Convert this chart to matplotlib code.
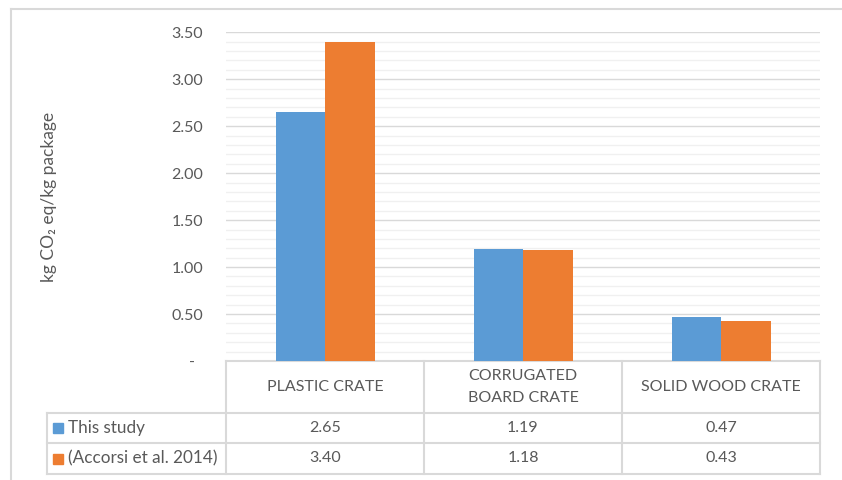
import numpy as np
import matplotlib.pyplot as plt
import matplotlib.transforms as mtransforms
from matplotlib.lines import Line2D
from matplotlib.patches import Rectangle
from matplotlib.ticker import MultipleLocator, FuncFormatter

# data
categories = ["PLASTIC CRATE", "CORRUGATED\nBOARD CRATE", "SOLID WOOD CRATE"]
series_names = ["This study", "(Accorsi et al. 2014)"]
this_study = [2.65, 1.19, 0.47]
accorsi = [3.40, 1.18, 0.43]
series_colors = ["#5B9BD5", "#ED7D31"]

W, H = 842, 480
TEXT = "#595959"
GRID = "#d9d9d9"
MINOR = "#f0f0f0"
FS = 11.5

plt.rcParams['font.family'] = ['Lato', 'DejaVu Sans']


def fx(px):
    return px / W


def fy(py):
    return 1 - py / H


fig = plt.figure(figsize=(W / 100, H / 100), dpi=100)

# plot area in pixel terms of the reference
ax = fig.add_axes([fx(226), fy(361), fx(820) - fx(226), fy(32.3) - fy(361)])
x = np.arange(len(categories))
bw = 0.25
for i, (vals, c) in enumerate(zip([this_study, accorsi], series_colors)):
    ax.bar(x + (i - 0.5) * bw, vals, bw, color=c, zorder=3)

ax.set_xlim(-0.5, len(categories) - 0.5)
ax.set_ylim(0, 3.5)
ax.yaxis.set_major_locator(MultipleLocator(0.5))
ax.yaxis.set_minor_locator(MultipleLocator(0.1))
ax.yaxis.set_major_formatter(FuncFormatter(lambda v, p: "-  " if abs(v) < 1e-9 else f"{v:.2f}"))
ax.grid(which='major', axis='y', color=GRID, lw=1, zorder=1)
ax.grid(which='minor', axis='y', color=MINOR, lw=1, zorder=0)
ax.set_axisbelow(True)
ax.set_xticks([])
ax.tick_params(axis='y', which='both', length=0, pad=16.5, labelsize=FS, labelcolor=TEXT)
for s in ['top', 'left', 'right']:
    ax.spines[s].set_visible(False)
ax.spines['bottom'].set_color(GRID)
ax.spines['bottom'].set_linewidth(1.5)

fig.text(fx(49), fy(196.5), "kg CO\u2082 eq/kg package", rotation=90,
         ha='center', va='center', fontsize=12.5, color=TEXT)

# data table below the axis
T = mtransforms.blended_transform_factory(ax.transData, fig.transFigure)
tab_top, row1, row2, tab_bot = 361, 413, 443, 474
left_px, right_px = 47, 820
lw = 1.5

for xb in np.arange(len(categories) + 1) - 0.5:
    fig.add_artist(Line2D([xb, xb], [fy(tab_top), fy(tab_bot)], transform=T,
                          color=GRID, lw=lw))
for yp in [row1, row2, tab_bot]:
    fig.add_artist(Line2D([fx(left_px), fx(right_px)], [fy(yp), fy(yp)],
                          transform=fig.transFigure, color=GRID, lw=lw))
fig.add_artist(Line2D([fx(left_px), fx(left_px)], [fy(row1), fy(tab_bot)],
                      transform=fig.transFigure, color=GRID, lw=lw))

# header cells, one text per line so the line gap can match
line_gap = 23
for i, cat in enumerate(categories):
    lines = cat.split("\n")
    for k, ln in enumerate(lines):
        yc = (tab_top + row1) / 2 + (k - (len(lines) - 1) / 2) * line_gap
        fig.text(i, fy(yc), ln, transform=T, ha='center', va='center',
                 fontsize=FS, color=TEXT)

rows = [(row1, row2), (row2, tab_bot)]
for (top, bot), name, vals, c in zip(rows, series_names, [this_study, accorsi], series_colors):
    yc = (top + bot) / 2
    fig.add_artist(Rectangle((fx(53), fy(yc + 5)), 10 / W, 10 / H,
                             transform=fig.transFigure, color=c))
    fig.text(fx(68), fy(yc), name, ha='left', va='center', fontsize=12.3, color=TEXT)
    for i, v in enumerate(vals):
        fig.text(i, fy(yc), f"{v:.2f}", transform=T, ha='center', va='center',
                 fontsize=FS, color=TEXT)

# chart frame (top and left edges visible in the reference)
fig.add_artist(Line2D([fx(11), 1], [fy(9), fy(9)], transform=fig.transFigure, color=GRID, lw=1.5))
fig.add_artist(Line2D([fx(11), fx(11)], [fy(9), 0], transform=fig.transFigure, color=GRID, lw=1.5))

fig.savefig("out.png", dpi=100)
